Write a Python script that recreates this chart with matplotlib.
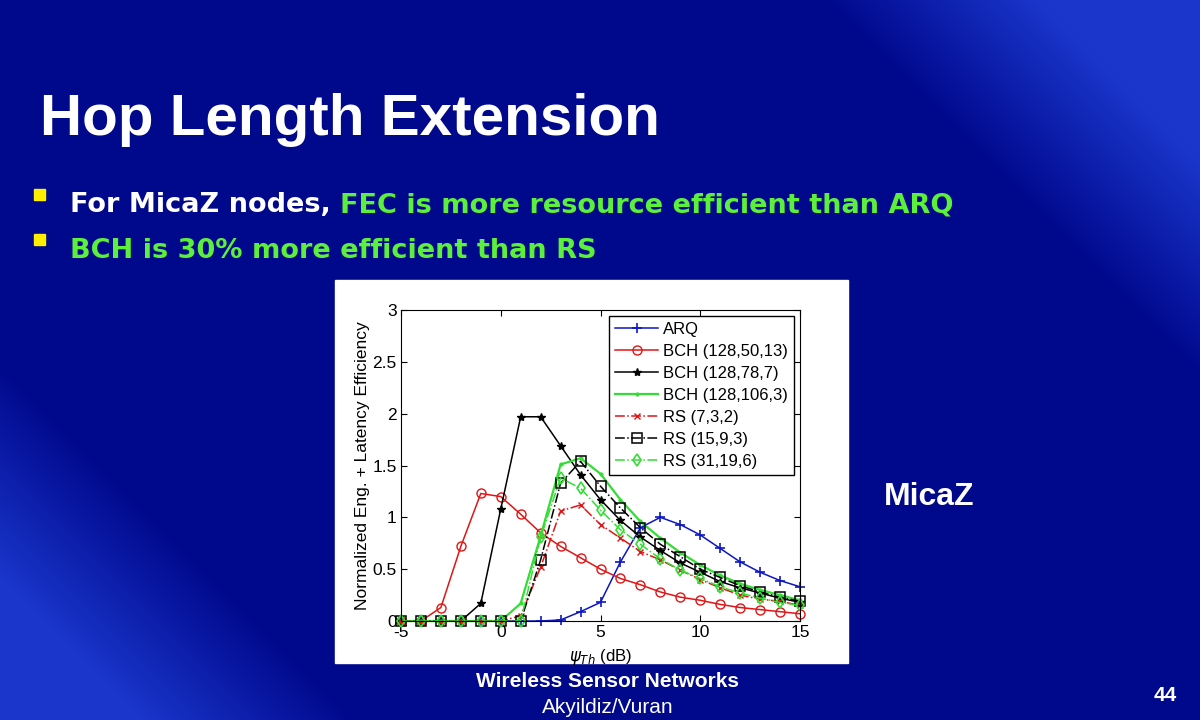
import numpy as np
import matplotlib
matplotlib.use("Agg")
import matplotlib.pyplot as plt
from matplotlib.patches import Rectangle

plt.rcParams["font.family"] = ["Liberation Sans", "DejaVu Sans"]
plt.rcParams["mathtext.fontset"] = "dejavusans"
plt.rcParams["axes.unicode_minus"] = False

# chart values
PSI_TH = list(range(-5, 16))
ARQ = [0, 0, 0, 0, 0, 0, 0, 0, 0.01, 0.09, 0.18, 0.57, 0.90, 1.00, 0.93, 0.83, 0.70, 0.57, 0.47, 0.39, 0.33]
BCH_50 = [0, 0, 0.13, 0.72, 1.23, 1.20, 1.03, 0.85, 0.72, 0.61, 0.50, 0.41, 0.35, 0.28, 0.23, 0.20, 0.16, 0.13, 0.11, 0.09, 0.07]
BCH_78 = [0, 0, 0, 0, 0.17, 1.08, 1.97, 1.97, 1.69, 1.41, 1.17, 0.97, 0.81, 0.68, 0.56, 0.47, 0.38, 0.32, 0.27, 0.22, 0.18]
BCH_106 = [0, 0, 0, 0, 0, 0, 0.17, 0.82, 1.51, 1.57, 1.42, 1.17, 0.96, 0.80, 0.66, 0.54, 0.44, 0.36, 0.30, 0.25, 0.20]
RS_7 = [0, 0, 0, 0, 0, 0, 0.05, 0.52, 1.06, 1.12, 0.93, 0.80, 0.67, 0.59, 0.49, 0.40, 0.32, 0.25, 0.21, 0.19, 0.15]
RS_15 = [0, 0, 0, 0, 0, 0, 0, 0.59, 1.33, 1.54, 1.30, 1.09, 0.90, 0.74, 0.62, 0.50, 0.42, 0.34, 0.28, 0.23, 0.19]
RS_31 = [0, 0, 0, 0, 0, 0, 0, 0.81, 1.38, 1.28, 1.07, 0.88, 0.74, 0.60, 0.49, 0.41, 0.33, 0.27, 0.22, 0.18, 0.15]

X_TICKS = [-5, 0, 5, 10, 15]
Y_TICKS = [0, 0.5, 1, 1.5, 2, 2.5, 3]
Y_TICK_LABELS = ["0", "0.5", "1", "1.5", "2", "2.5", "3"]

TITLE = "Hop Length Extension"
BULLET_1 = ("For MicaZ nodes, ", "FEC is more resource efficient than ARQ")
BULLET_2 = "BCH is 30% more efficient than RS"

BLUE = "#0c16c4"
RED = "#e01515"
GREEN = "#33dd33"
SLIDE_GREEN = "#5cf03c"
DARK_BG = np.array([0, 8, 140]) / 255
LIGHT_BG = np.array([35, 70, 225]) / 255


def make_background(fig):
    bg = fig.add_axes([0, 0, 1, 1])
    yy, xx = np.mgrid[0:720:4, 0:1200:4]
    s = xx - yy
    w = np.clip((s - 820) / 220, 0, 1) + np.clip((-360 - s) / 220, 0, 1)
    w = np.clip(w, 0, 1)[..., None] * 0.75
    img = DARK_BG * (1 - w) + LIGHT_BG * w
    bg.imshow(img, extent=[0, 1200, 720, 0], aspect="auto", interpolation="bilinear")
    bg.set_xlim(0, 1200)
    bg.set_ylim(720, 0)
    bg.axis("off")
    return bg


def make_slide_text(bg):
    bg.text(40, 135, TITLE, fontsize=42, weight="bold", color="white", va="baseline")

    for ypos in (189, 234):
        bg.add_patch(Rectangle((34, ypos), 11, 11, color="#ffee00", zorder=3))

    wide = ["DejaVu Sans"]
    t1 = bg.text(70, 212, BULLET_1[0], fontsize=19.5, weight="bold", color="white",
                 va="baseline", family=wide)
    bg.annotate(BULLET_1[1], xy=(1, 0), xycoords=t1, va="bottom", ha="left",
                fontsize=19.5, weight="bold", color=SLIDE_GREEN, family=wide)
    bg.text(70, 258, BULLET_2, fontsize=19.5, weight="bold", color=SLIDE_GREEN,
            va="baseline", family=wide)

    bg.text(884, 505, "MicaZ", fontsize=23, weight="bold", color="white", va="baseline")

    bg.text(608, 687, "Wireless Sensor Networks", fontsize=15, weight="bold", color="white",
            ha="center", va="baseline")
    bg.text(608, 713, "Akyildiz/Vuran", fontsize=15, color="white",
            ha="center", va="baseline")
    bg.text(1165, 701, "44", fontsize=15, weight="bold", color="white",
            ha="center", va="baseline")

    # white panel behind the figure
    bg.add_patch(Rectangle((335, 280), 513, 383, color="white", zorder=2))


def make_chart(fig):
    ax = fig.add_axes([401 / 1200, (720 - 621) / 720, 399 / 1200, 311 / 720])
    common = dict(lw=1.1, clip_on=False)
    ax.plot(PSI_TH, ARQ, color=BLUE, marker="+", ms=7, mew=1.2, label="ARQ", **common)
    ax.plot(PSI_TH, BCH_50, color=RED, marker="o", ms=6.5, mfc="none", mew=1.0,
            label="BCH (128,50,13)", **common)
    ax.plot(PSI_TH, BCH_78, color="black", marker="*", ms=6, label="BCH (128,78,7)", **common)
    ax.plot(PSI_TH, BCH_106, color=GREEN, marker=".", ms=4, lw=1.6,
            label="BCH (128,106,3)", clip_on=False)
    ax.plot(PSI_TH, RS_7, color=RED, ls="-.", marker="x", ms=5, mew=1.0,
            label="RS (7,3,2)", **common)
    ax.plot(PSI_TH, RS_15, color="black", ls="-.", marker="s", ms=6.5, mfc="none", mew=1.1,
            label="RS (15,9,3)", **common)
    ax.plot(PSI_TH, RS_31, color=GREEN, ls="-.", marker="d", ms=6.5, mfc="none", mew=1.2,
            label="RS (31,19,6)", **common)

    ax.set_xlim(-5, 15)
    ax.set_ylim(0, 3)
    ax.set_xticks(X_TICKS)
    ax.set_yticks(Y_TICKS)
    ax.set_yticklabels(Y_TICK_LABELS)
    ax.tick_params(direction="in", top=True, right=True, length=4, labelsize=12.5, pad=3)
    ax.set_ylabel("Normalized Eng. + Latency Efficiency", fontsize=12.5, labelpad=2)
    ax.set_xlabel(r"$\psi_{Th}$ (dB)", fontsize=12, labelpad=5)
    for sp in ax.spines.values():
        sp.set_linewidth(0.8)

    ax.legend(loc="upper right", fontsize=12, fancybox=False, edgecolor="black",
              framealpha=1, borderaxespad=0.35, borderpad=0.35, labelspacing=0.42,
              handlelength=2.6, handletextpad=0.3)
    return ax


if __name__ == "__main__":
    fig = plt.figure(figsize=(12, 7.2), dpi=100)
    bg = make_background(fig)
    make_slide_text(bg)
    make_chart(fig)
    fig.savefig("out.png", dpi=100)
